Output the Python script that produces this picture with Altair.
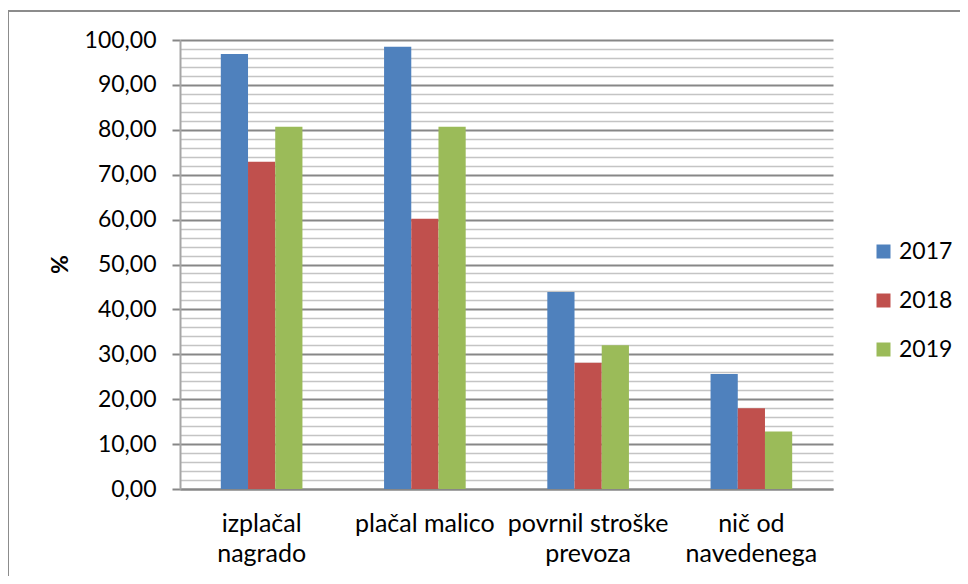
import altair as alt
import pandas as pd

categories = ["izplačal nagrado", "plačal malico", "povrnil stroške prevoza", "nič od navedenega"]
label_lines = [["izplačal", "nagrado"], ["plačal malico"], ["povrnil stroške", "prevoza"], ["nič od", "navedenega"]]
years = ["2017", "2018", "2019"]
v2017 = [96.9, 98.5, 43.9, 25.6]
v2018 = [72.9, 60.2, 28.1, 18.0]
v2019 = [80.7, 80.7, 32.0, 12.8]
colors = ["#4F81BD", "#C0504D", "#9BBB59"]
y_ticks = list(range(0, 101, 2))

rows = []
for series, yr in zip([v2017, v2018, v2019], years):
    for c, v in zip(categories, series):
        rows.append({"kategorija": c, "leto": yr, "vrednost": v})
df = pd.DataFrame(rows)

FONT = "Lato"

# multi-line x labels
expr = "''"
for c, lines in reversed(list(zip(categories, label_lines))):
    arr = "[" + ",".join("'" + l + "'" for l in lines) + "]"
    expr = f"datum.value === '{c}' ? {arr} : ({expr})"

major = "datum.value % 10 === 0"

bars = alt.Chart(df).mark_bar().encode(
    x=alt.X("kategorija:N", sort=categories,
            scale=alt.Scale(paddingInner=0.5, paddingOuter=0.25),
            axis=alt.Axis(title=None, labelAngle=0, ticks=False, labelExpr=expr,
                          labelFont=FONT, labelFontSize=25, labelColor="#000000",
                          labelLineHeight=30, labelPadding=22, labelLimit=0,
                          domainColor="#878787", domainWidth=2, labelBaseline="top")),
    xOffset=alt.XOffset("leto:N", sort=years),
    y=alt.Y("vrednost:Q", scale=alt.Scale(domain=[0, 100], nice=False),
            axis=alt.Axis(values=y_ticks, title="%",
                          labelExpr=f"{major} ? replace(format(datum.value, '.2f'), '.', ',') : ''",
                          labelFont=FONT, labelFontSize=23, labelColor="#000000", labelPadding=16,
                          titleFont=FONT, titleFontSize=23, titleFontWeight="bold", titleColor="#000000",
                          titleX=-120, titleY=224, titleAlign="center", titleBaseline="middle",
                          gridColor={"condition": {"test": major, "value": "#878787"}, "value": "#c4c4c4"},
                          gridWidth={"condition": {"test": major, "value": 2}, "value": 1.6},
                          tickOpacity={"condition": {"test": major, "value": 1}, "value": 0},
                          tickColor="#878787", tickSize=8, tickWidth=2,
                          domainColor="#a6a6a6", domainWidth=2)),
    color=alt.Color("leto:N", sort=years, scale=alt.Scale(domain=years, range=colors),
                    legend=alt.Legend(title=None, orient="none", legendX=692, legendY=200,
                                      symbolType="square", symbolSize=196, symbolStrokeWidth=0,
                                      labelFont=FONT, labelFontSize=23, labelColor="#000000",
                                      labelOffset=4, rowPadding=25)),
)

frame = alt.Chart(alt.Data(values=[{}])).mark_rect(
    fill=None, stroke="#8c8c8c", strokeWidth=2
).encode(
    x=alt.value(-172), x2=alt.value(800), y=alt.value(-29), y2=alt.value(560)
)

chart = alt.layer(frame, bars).properties(
    width=653, height=449,
    autosize=alt.AutoSizeParams(type="none"),
    padding={"left": 172, "top": 32, "right": 127, "bottom": 87},
    background="white",
).configure_view(stroke=None)

chart.save("out.html", embed_options={"renderer": "svg", "actions": False})
